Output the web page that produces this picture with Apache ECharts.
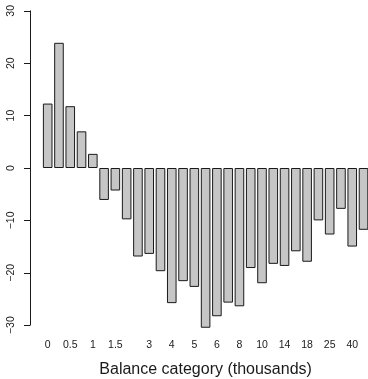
<!DOCTYPE html>
<html><head><meta charset="utf-8">
<script src="https://cdn.jsdelivr.net/npm/echarts@6/dist/echarts.min.js"></script>
<style>html,body{margin:0;padding:0;background:#fff}#c{width:368px;height:379px}</style>
</head><body><div id="c"></div>
<script>
// Tick labels shown under bars ('' = bar without a printed label)
const categories = ['0','','0.5','','1','','1.5','','','3','','4','','5','','6','','8','','10','','14','','18','','25','','40',''];
const values = [12.3, 23.9, 11.8, 7.0, 2.7, -6.1, -4.3, -9.8, -16.9, -16.4, -19.7, -25.8, -21.6, -22.7, -30.5, -28.3, -25.7, -26.4, -19.1, -22.0, -18.3, -18.7, -15.9, -17.9, -10.0, -12.7, -7.8, -15.0, -11.8];
const yTicks = [-30, -20, -10, 0, 10, 20, 30];
const xTitle = 'Balance category (thousands)';

const font = '"Liberation Sans", Arial, Helvetica, sans-serif';
const pxPerUnit = 5.238, zeroY = 168;
const chart = echarts.init(document.getElementById('c'), null, {renderer: 'canvas'});
chart.setOption({
  animation: false,
  backgroundColor: '#fff',
  grid: [
    {left: 42.06, width: 327.1, top: zeroY - 32 * pxPerUnit, height: 64 * pxPerUnit, containLabel: false, outerBoundsMode: 'none'},
    {left: 30, width: 1, top: zeroY - 30 * pxPerUnit, height: 60 * pxPerUnit, containLabel: false, outerBoundsMode: 'none'}
  ],
  xAxis: [
    {type: 'category', gridIndex: 0, data: categories.map((c, i) => i),
     axisLine: {show: false}, axisTick: {show: false}, splitLine: {show: false},
     axisLabel: {interval: 0, margin: 4, fontSize: 10.5, fontFamily: font, color: '#1a1a1a',
       formatter: (v, i) => categories[i]},
     name: xTitle, nameLocation: 'middle', nameGap: 26,
     nameTextStyle: {fontSize: 16, fontFamily: font, color: '#1a1a1a'}},
    {type: 'value', gridIndex: 1, show: false, min: 0, max: 1}
  ],
  yAxis: [
    {type: 'value', gridIndex: 0, min: -32, max: 32, show: false},
    {type: 'value', gridIndex: 1, min: yTicks[0], max: yTicks[yTicks.length - 1], interval: 10,
     axisLine: {show: true, lineStyle: {color: '#1a1a1a', width: 1}},
     axisTick: {show: true, inside: false, length: 6, lineStyle: {color: '#1a1a1a', width: 1}},
     splitLine: {show: false},
     axisLabel: {rotate: 90, margin: 13, fontSize: 10.5, fontFamily: font, color: '#1a1a1a',
       formatter: v => (v < 0 ? '\u2212' + Math.abs(v) : String(v))}}
  ],
  series: [{
    type: 'bar', xAxisIndex: 0, yAxisIndex: 0, data: values, barWidth: '85%',
    itemStyle: {color: '#c6c6c6', borderColor: '#1a1a1a', borderWidth: 1},
    emphasis: {disabled: true}
  }]
});
</script></body></html>
